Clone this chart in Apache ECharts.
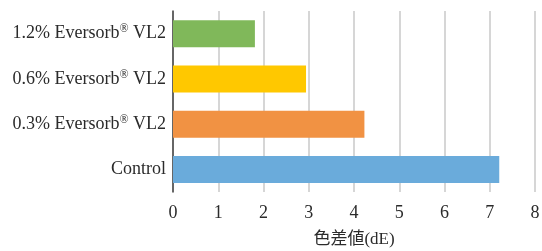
<!DOCTYPE html>
<html>
<head>
<meta charset="utf-8">
<script src="https://cdn.jsdelivr.net/npm/echarts@6/dist/echarts.min.js"></script>
<style>
  html, body { margin: 0; padding: 0; background: #fff; }
  #chart { width: 542px; height: 251px; }
</style>
</head>
<body>
<div id="chart"></div>
<script>
  // data, bottom to top
  const categories = ['Control', '0.3% Eversorb® VL2', '0.6% Eversorb® VL2', '1.2% Eversorb® VL2'];
  const values = [7.21, 4.23, 2.94, 1.81];
  const barColors = ['#6aabdb', '#f19243', '#ffc800', '#80b85a'];
  const xTicks = [0, 1, 2, 3, 4, 5, 6, 7, 8];

  const serif = '"Liberation Serif", "Times New Roman", serif';

  let chart = echarts.init(document.getElementById('chart'));
  chart.setOption({
    animation: false,
    grid: {
      left: 173,
      right: 7,
      top: 11,
      bottom: 59,
      outerBoundsMode: 'none'
    },
    xAxis: {
      type: 'value',
      min: xTicks[0],
      max: xTicks[xTicks.length - 1],
      interval: 1,
      name: '色差値(dE)',
      nameLocation: 'middle',
      nameGap: 39,
      nameTextStyle: {
        fontFamily: serif + ', "Noto Sans CJK JP"',
        fontSize: 17,
        color: '#2b2b2b'
      },
      axisLine: { show: false },
      axisTick: { show: false },
      axisLabel: {
        fontFamily: serif,
        fontSize: 18,
        color: '#2b2b2b',
        margin: 12
      },
      splitLine: {
        lineStyle: { color: '#c8c8c8', width: 1.5 }
      }
    },
    yAxis: {
      type: 'category',
      data: categories,
      axisLine: { lineStyle: { color: '#404040', width: 1.5 } },
      axisTick: { show: false },
      axisLabel: {
        margin: 7,
        fontFamily: serif,
        fontSize: 18,
        color: '#2b2b2b',
        formatter: function (v) {
          return v.replace('®', '{sup|®}');
        },
        rich: {
          sup: {
            fontFamily: serif,
            fontSize: 12,
            color: '#2b2b2b',
            verticalAlign: 'top',
            padding: [0, 0, 9, 0]
          }
        }
      }
    },
    series: [
      {
        type: 'bar',
        barWidth: 27,
        data: values.map(function (v, i) {
          return { value: v, itemStyle: { color: barColors[i] } };
        })
      }
    ]
  });
</script>
</body>
</html>
